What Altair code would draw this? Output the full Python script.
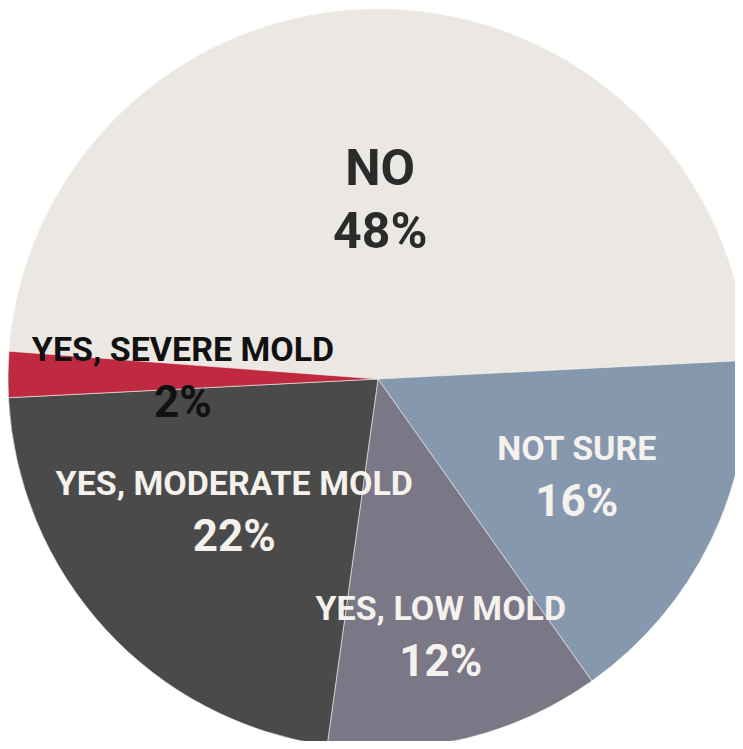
import math
import altair as alt
import pandas as pd

categories = ["No", "Not Sure", "Yes, Low Mold", "Yes, Moderate Mold", "Yes, Severe Mold"]
label_lines = ["NO", "NOT SURE", "YES, LOW MOLD", "YES, MODERATE MOLD", "YES, SEVERE MOLD"]
values = [48, 16, 12, 22, 2]

# style
colors = ["#ebe8e3", "#8698ae", "#7a7786", "#4a4a4a", "#c02a40"]
text_colors = ["#2b2b2b", "#f5f1ec", "#f5f1ec", "#f5f1ec", "#111111"]
label_radius = [178, 221, 265, 195, 195]

df = pd.DataFrame({
    "cat": categories,
    "line": label_lines,
    "value": values,
    "pct": [f"{v}%" for v in values],
    "idx": list(range(len(categories))),
    "r": label_radius,
})

start = math.radians(-85.7)
theta_scale = alt.Scale(domain=[0, 100], range=[start, start + 2 * math.pi])
color_scale = alt.Scale(domain=categories, range=colors)
tcolor_scale = alt.Scale(domain=categories, range=text_colors)

CX, CY = 370, 371
FONT = "Roboto, Liberation Sans, sans-serif"

arcs = alt.Chart(df).mark_arc(radius=370, stroke="#f4f2ee", strokeWidth=0.6).encode(
    theta=alt.Theta("value:Q", stack=True, scale=theta_scale),
    order=alt.Order("idx:Q"),
    color=alt.Color("cat:N", scale=color_scale, legend=None),
    x=alt.value(CX),
    y=alt.value(CY),
)

tbase = alt.Chart(df).transform_window(
    cum="sum(value)", sort=[alt.SortField("idx", order="ascending")], frame=[None, 0]
).transform_calculate(
    mid="datum.cum - datum.value / 2"
).encode(
    theta=alt.Theta("mid:Q", stack=False, scale=theta_scale),
    radius=alt.Radius("r:Q", scale=None),
    color=alt.Color("cat:N", scale=tcolor_scale, legend=None),
    x=alt.value(CX),
    y=alt.value(CY),
)

no_filter = alt.datum.cat == "No"
other_filter = alt.datum.cat != "No"

no_cat = tbase.transform_filter(no_filter).mark_text(
    font=FONT, fontWeight="bold", fontSize=50, dy=-31, align="center", baseline="middle"
).encode(text="line:N")
no_pct = tbase.transform_filter(no_filter).mark_text(
    font=FONT, fontWeight="bold", fontSize=50, dy=32, align="center", baseline="middle"
).encode(text="pct:N")
oth_cat = tbase.transform_filter(other_filter).mark_text(
    font=FONT, fontWeight="bold", fontSize=34, dy=-26, align="center", baseline="middle"
).encode(text="line:N")
oth_pct = tbase.transform_filter(other_filter).mark_text(
    font=FONT, fontWeight="bold", fontSize=44, dy=27, align="center", baseline="middle"
).encode(text="pct:N")

chart = alt.layer(arcs, no_cat, no_pct, oth_cat, oth_pct).resolve_scale(
    color="independent"
).properties(
    width=727, height=733, padding=0, autosize="none",
).configure_view(stroke=None)

chart.save("out.html", embed_options={"renderer": "svg", "actions": False})
